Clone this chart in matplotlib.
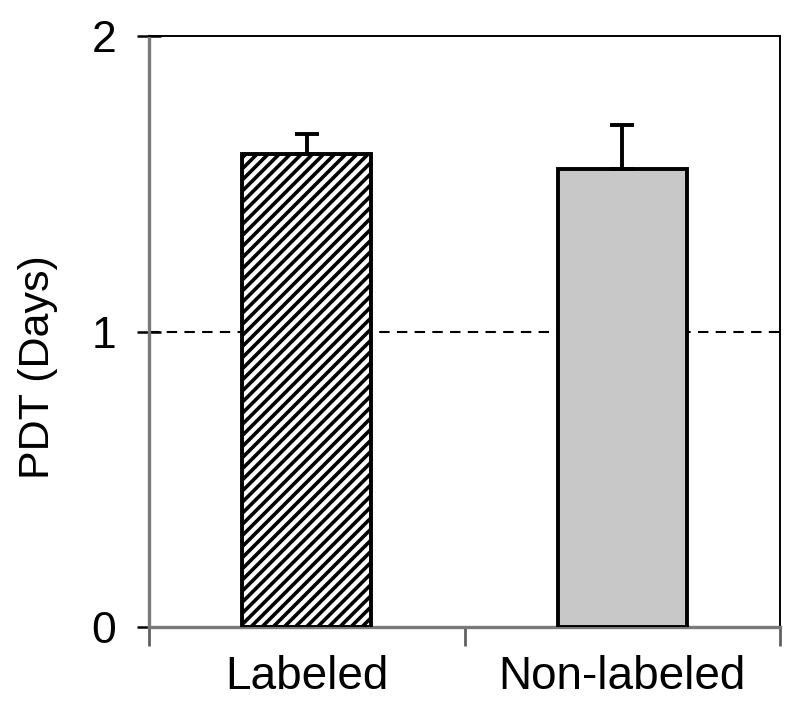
import matplotlib
matplotlib.use("Agg")
import matplotlib.pyplot as plt
import numpy as np

categories = ["Labeled", "Non-labeled"]
values = [1.60, 1.55]
errors = [0.07, 0.15]
yticks = [0, 1, 2]
reference_level = 1.0

plt.rcParams['font.family'] = ['Liberation Sans', 'DejaVu Sans']
plt.rcParams['hatch.linewidth'] = 2.6

fig = plt.figure(figsize=(8, 7.11), dpi=100)
ax = fig.add_axes([0.18625, 0.1181, 0.78875, 0.8313])

x = np.arange(len(categories))
facecolors = ["white", "#c8c8c8"]
hatches = ["///", None]
for xi, v, e, fc, h in zip(x, values, errors, facecolors, hatches):
    ax.bar(xi, v, width=0.41, color=fc, edgecolor="black", linewidth=2.8,
           hatch=h, zorder=3)
    ax.errorbar(xi, v, yerr=[[0], [e]], fmt="none", ecolor="black",
                elinewidth=2.8, capsize=8.5, capthick=2.8, zorder=4)

ax.axhline(reference_level, color="black", linestyle=(0, (5, 3.5)), linewidth=1.5, zorder=1)

ax.set_xlim(-0.5, 1.5)
ax.set_ylim(0, 2)
ax.set_yticks(yticks)
ax.set_yticklabels([str(t) for t in yticks], fontsize=32)
ax.set_xticks(x)
ax.set_xticklabels(categories, fontsize=33)
ax.set_xticks([-0.5, 0.5, 1.5], minor=True)
ax.tick_params(axis="x", which="major", length=0, pad=20)
ax.tick_params(axis="x", which="minor", length=14, width=2.0, color="#606060", direction="out")
ax.tick_params(axis="y", length=17, width=1.8, color="black", direction="inout", pad=15)

for s in ["left", "bottom"]:
    ax.spines[s].set_color("#7a7a7a")
    ax.spines[s].set_linewidth(2.4)
for s in ["top", "right"]:
    ax.spines[s].set_color("black")
    ax.spines[s].set_linewidth(1.4)

ax.set_ylabel("PDT (Days)", fontsize=31)
ax.yaxis.set_label_coords(-0.145, 0.44)

fig.savefig("out.png", dpi=100)
